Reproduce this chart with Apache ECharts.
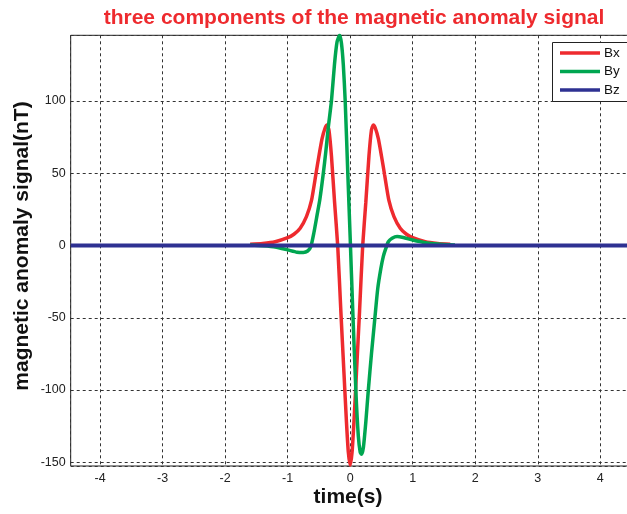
<!DOCTYPE html>
<html><head><meta charset="utf-8">
<script src="https://cdn.jsdelivr.net/npm/echarts@6/dist/echarts.min.js"></script>
<style>html,body{margin:0;padding:0;background:#fff}#c{width:627px;height:514px}</style>
</head><body><div id="c"></div>
<script>
// ---- data ----
const seriesNames = ['Bx', 'By', 'Bz'];
const bxTime = [-1.6, -1.4, -1.2, -1.0, -0.9, -0.8, -0.7, -0.62, -0.55, -0.5, -0.45, -0.4, -0.37, -0.34, -0.3, -0.25, -0.2, -0.15, -0.1, -0.06, -0.03, 0,
                0.03, 0.06, 0.1, 0.15, 0.2, 0.25, 0.3, 0.34, 0.37, 0.4, 0.45, 0.5, 0.55, 0.62, 0.7, 0.8, 0.9, 1.0, 1.2, 1.4, 1.6];
const bxValues = [0.8, 1.4, 2.6, 5.4, 7.8, 12, 20, 31, 49, 62, 74, 81.5, 83.5, 80, 62, 30, 0, -45, -88, -122, -143, -152,
                  -143, -122, -88, -45, 0, 30, 62, 80, 83.5, 81.5, 74, 62, 49, 31, 20, 12, 7.8, 5.4, 2.6, 1.4, 0.8];
const byTime = [-1.6, -1.4, -1.2, -1.0, -0.85, -0.75, -0.68, -0.63, -0.58, -0.53, -0.485, -0.43, -0.39, -0.35, -0.3, -0.25, -0.21, -0.17, -0.14, -0.11, -0.08, -0.04, 0.0,
                0.04, 0.09, 0.13, 0.16, 0.18, 0.21, 0.25, 0.29, 0.34, 0.395, 0.44, 0.49, 0.53, 0.57, 0.61, 0.67, 0.75, 0.85, 1.0, 1.2, 1.4, 1.675];
const byValues = [0.3, -0.2, -1, -3, -4.6, -4.8, -3.8, -0.8, 9, 21, 32, 50, 65, 82, 100, 126, 141, 145.5, 140, 125, 100, 52, 5,
                  -44, -100, -132, -143, -144.5, -140, -122, -100, -75, -50, -30, -16, -7.5, -2, 2.6, 5, 6.2, 5.5, 3.8, 2, 1, 0.3];
const bzTime = [-4.47, 4.47];
const bzValues = [0, 0];
const xTickLabels = ['-4', '-3', '-2', '-1', '0', '1', '2', '3', '4'];
const yTickLabels = ['-150', '-100', '-50', '0', '50', '100'];

const pairs = (t, v) => t.map((x, i) => [x, v[i]]);
const colors = ['#EE2A2E', '#00A651', '#2E3192'];
const font = '"Liberation Sans", Arial, Helvetica, sans-serif';

const chart = echarts.init(document.getElementById('c'));
chart.setOption({
  animation: false,
  backgroundColor: '#fff',
  color: colors,
  grid: { left: 70.7, top: 35.3, width: 559, height: 430.7, show: true, borderColor: '#222', borderWidth: 1, backgroundColor: '#fff',
          containLabel: false, outerBoundsMode: 'none' },
  xAxis: {
    type: 'value', min: -4.47, max: 4.47, splitNumber: 9,
    axisLine: { show: false },
    axisTick: { show: false },
    axisLabel: { margin: 6, color: '#222', fontSize: 12.5, fontFamily: font,
      formatter: v => xTickLabels.includes(String(v)) ? String(v) : '' },
    splitLine: { show: true, lineStyle: { color: '#333', type: [3, 3], width: 1 } }
  },
  yAxis: {
    type: 'value', min: -152.6, max: 145.5, splitNumber: 6,
    axisLine: { show: false },
    axisTick: { show: false },
    axisLabel: { margin: 5, color: '#222', fontSize: 12.5, fontFamily: font,
      formatter: v => yTickLabels.includes(String(v)) ? String(v) : '' },
    splitLine: { show: true, lineStyle: { color: '#333', type: [3, 3], width: 1 } }
  },
  legend: {
    data: seriesNames, orient: 'vertical', left: 552, top: 42, z: 10,
    icon: 'rect', itemWidth: 40, itemHeight: 3.5, itemGap: 4.5,
    padding: [4, 4, 5, 8],
    backgroundColor: 'transparent', borderWidth: 0,
    textStyle: { fontSize: 13.5, fontFamily: font, color: '#111', lineHeight: 14, padding: [0, 0, 0, -1] }
  },
  graphic: [
    { type: 'rect', z: 5, silent: true, shape: { x: 552.5, y: 42.5, width: 90, height: 59 },
      style: { fill: '#fff', stroke: '#222', lineWidth: 1 } },
    { type: 'text', x: 354, y: 18, silent: true,
      style: { text: 'three components of the magnetic anomaly signal', fill: '#EE2A2E', font: 'bold 21px ' + font, textAlign: 'center', textVerticalAlign: 'middle' } },
    { type: 'text', x: 22, y: 246, rotation: Math.PI / 2, silent: true,
      style: { text: 'magnetic anomaly signal(nT)', fill: '#111', font: 'bold 21px ' + font, textAlign: 'center', textVerticalAlign: 'middle' } },
    { type: 'text', x: 348, y: 497, silent: true,
      style: { text: 'time(s)', fill: '#111', font: 'bold 21px ' + font, textAlign: 'center', textVerticalAlign: 'middle' } }
  ],
  series: [
    { name: 'Bx', type: 'line', data: pairs(bxTime, bxValues), showSymbol: false, smooth: 0.2, lineStyle: { width: 3.5 } },
    { name: 'By', type: 'line', data: pairs(byTime, byValues), showSymbol: false, smooth: 0.2, lineStyle: { width: 3.5 } },
    { name: 'Bz', type: 'line', data: pairs(bzTime, bzValues), showSymbol: false, lineStyle: { width: 4 } }
  ]
});
</script>
</body></html>
